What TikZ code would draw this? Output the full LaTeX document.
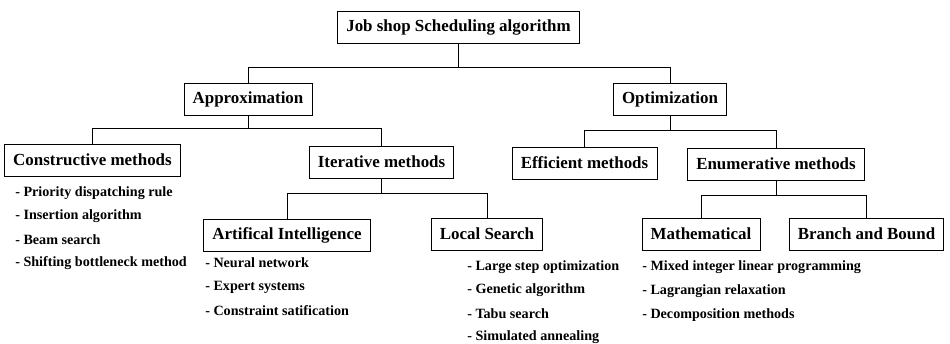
\documentclass[tikz,border=0pt]{standalone}
\usepackage{fontspec}
\setmainfont{Liberation Serif}
\usetikzlibrary{positioning}
\begin{document}
\begin{tikzpicture}[x=0.75pt, y=-0.75pt,
  box/.style={draw, line width=0.6pt, inner xsep=6.5pt, inner ysep=0pt, minimum height=24pt, font=\fontsize{12.7}{15}\selectfont\bfseries},
  item/.style={anchor=west, inner sep=0pt, font=\fontsize{10.6}{13}\selectfont\bfseries},
  link/.style={line width=0.6pt}]
\useasboundingbox (0,0) rectangle (950,343);
\node[box] (root) at (458.5,27.5) {Job shop Scheduling algorithm};
\node[box] (approx) at (248,99.5) {Approximation};
\node[box] (optim) at (670,99) {Optimization};
\node[box] (constr) at (92.5,160) {Constructive methods};
\node[box] (iter) at (381.5,162) {Iterative methods};
\node[box] (effic) at (584.5,163) {Efficient methods};
\node[box] (enum) at (776,164) {Enumerative methods};
\node[box] (ai) at (287,235) {Artifical Intelligence};
\node[box] (local) at (487,234) {Local Search};
\node[box] (math) at (701,234) {Mathematical};
\node[box] (bnb) at (866.5,234) {Branch and Bound};
\draw[link] (root.south) -- ++(0,23) coordinate (j0);
\draw[link] (j0) -| (approx.north); \draw[link] (j0) -| (optim.north);
\draw[link] (approx.south) -- ++(0,12.5) coordinate (j1);
\draw[link] (j1) -| (constr.north); \draw[link] (j1) -| (iter.north);
\draw[link] (optim.south) -- ++(0,15) coordinate (j2);
\draw[link] (j2) -| (effic.north); \draw[link] (j2) -| (enum.north);
\draw[link] (iter.south) -- ++(0,14.5) coordinate (j3);
\draw[link] (j3) -| (ai.north); \draw[link] (j3) -| (local.north);
\draw[link] (enum.south) -- ++(0,15) coordinate (j4);
\draw[link] (j4) -| (math.north); \draw[link] (j4) -| (bnb.north);
\foreach \t [count=\i] in {Priority dispatching rule, Insertion algorithm, Beam search, Shifting bottleneck method}
  \node[item] (cm\i) at (15,{193+23.4*(\i-1)}) {- \t};
\foreach \t [count=\i] in {Neural network, Expert systems, Constraint satification}
  \node[item] (ai\i) at (205,{263+24*(\i-1)}) {- \t};
\foreach \t [count=\i] in {Large step optimization, Genetic algorithm, Tabu search, Simulated annealing}
  \node[item] (ls\i) at (467,{267+23.4*(\i-1)}) {- \t};
\foreach \t [count=\i] in {Mixed integer linear programming, Lagrangian relaxation, Decomposition methods}
  \node[item] (mt\i) at (642,{267+24*(\i-1)}) {- \t};
\end{tikzpicture}
\end{document}
